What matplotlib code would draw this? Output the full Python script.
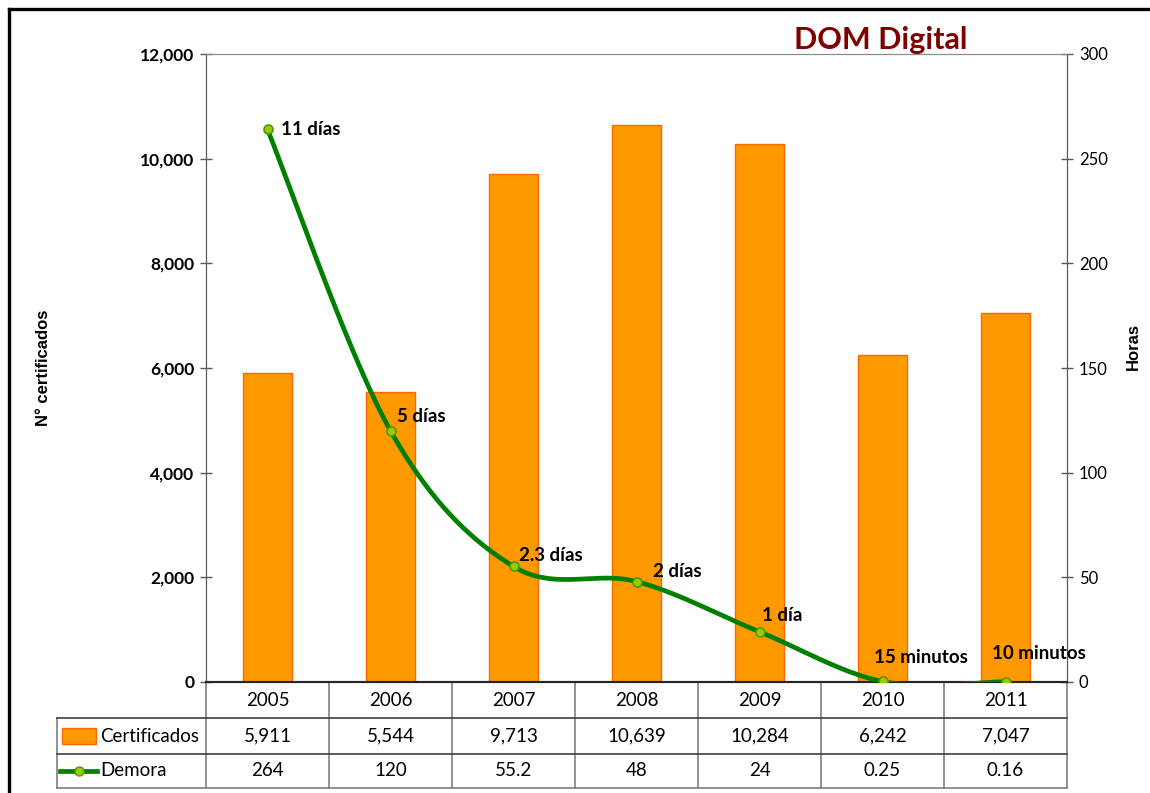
import numpy as np
import matplotlib.pyplot as plt
from matplotlib.lines import Line2D
from matplotlib.patches import Rectangle

# data
years = ["2005", "2006", "2007", "2008", "2009", "2010", "2011"]
certificados = [5911, 5544, 9713, 10639, 10284, 6242, 7047]
demora = [264, 120, 55.2, 48, 24, 0.25, 0.16]
etiquetas = ["11 días", "5 días", "2.3 días", "2 días", "1 día", "15 minutos", "10 minutos"]

orange = "#FF9900"
orange_edge = "#FF6600"
green = "#008000"
marker_fc = "#99CC00"
font = ["Lato", "DejaVu Sans"]

plt.rcParams["font.family"] = font


def smooth(xs, ys, n=40):
    # Catmull-Rom style curve like Excel's smoothed line
    p = np.column_stack([xs, ys]).astype(float)
    p = np.vstack([p[0], p, p[-1]])
    out = []
    for i in range(1, len(p) - 2):
        p0, p1, p2, p3 = p[i - 1], p[i], p[i + 1], p[i + 2]
        c1 = p1 + (p2 - p0) / 6
        c2 = p2 - (p3 - p1) / 6
        t = np.linspace(0, 1, n)[:, None]
        seg = ((1 - t) ** 3) * p1 + 3 * ((1 - t) ** 2) * t * c1 + 3 * (1 - t) * t ** 2 * c2 + t ** 3 * p2
        out.append(seg)
    out = np.vstack(out)
    return out[:, 0], out[:, 1]


fig = plt.figure(figsize=(11.5, 7.93), dpi=100)
ax = fig.add_axes([206 / 1150, 1 - 682 / 793, 861 / 1150, 628 / 793])
ax2 = ax.twinx()

x = np.arange(len(years))
ax.bar(x, certificados, width=0.4, color=orange, edgecolor=orange_edge, linewidth=1, zorder=2)
ax.set_xlim(-0.5, len(years) - 0.5)
ax.set_ylim(0, 12000)
ax.set_yticks(np.arange(0, 12001, 2000))
ax.set_yticklabels([f"{v:,}" for v in range(0, 12001, 2000)], fontsize=12.5, fontweight="bold")
ax.set_xticks([])
ax.tick_params(axis="y", direction="inout", length=9, width=1, color="#595959", pad=4)

sx, sy = smooth(x, demora)
ax2.plot(sx, sy, color=green, linewidth=3.4, zorder=3, solid_capstyle="round")
ax2.plot(x, demora, linestyle="none", marker="o", markersize=6.5, markerfacecolor=marker_fc,
         markeredgecolor="#4E9A06", markeredgewidth=1.2, zorder=4)
ax2.set_ylim(0, 300)
ax2.set_yticks(np.arange(0, 301, 50))
ax2.tick_params(axis="y", direction="inout", length=9, width=1, color="#595959", labelsize=12, pad=4)
ax2.set_xlim(-0.5, len(years) - 0.5)
ax.set_zorder(ax2.get_zorder() - 1)
ax2.patch.set_visible(False)

offsets = [(10, 0), (5, 10), (4, 8), (12, 7), (2, 12), (-6, 17), (-10, 20)]
for xi, yi, lab, off in zip(x, demora, etiquetas, offsets):
    ax2.annotate(lab, (xi, yi), xytext=off, textcoords="offset points", ha="left", va="center",
                 fontsize=13.5, fontweight="bold", color="black", zorder=5)

for a in (ax, ax2):
    a.spines["top"].set_color("#8C8C8C")
    a.spines["left"].set_color("#595959")
    a.spines["right"].set_color("#595959")
    a.spines["bottom"].set_color("#262626")
    a.spines["bottom"].set_linewidth(1.5)

ax.set_ylabel("N° certificados", family=["Liberation Sans"], fontweight="bold", fontsize=12)
ax.yaxis.set_label_coords((51 - 206) / 861, (682 - 368) / 628)
ax2.set_ylabel("Horas", family=["Liberation Sans"], fontweight="bold", fontsize=12)
ax2.yaxis.set_label_coords((1126 - 206) / 861, (682 - 347) / 628)

# data table under the plot
rows = [-36 / 628, -72 / 628, -106 / 628]
tr = ax.get_xaxis_transform()
vline = "#7F7F7F"
hline = "#404040"
lab_left = (57 - 206) / 861 * 7 - 0.5
for b in np.arange(-0.5, len(years), 1):
    ax.add_line(Line2D([b, b], [0, rows[2]], transform=tr, color=vline, lw=1.2, clip_on=False))
ax.add_line(Line2D([lab_left, lab_left], [rows[0], rows[2]], transform=tr, color=vline, lw=1.2, clip_on=False))
ax.add_line(Line2D([lab_left, len(years) - 0.5], [rows[0], rows[0]], transform=tr, color=hline, lw=1.2, clip_on=False))
ax.add_line(Line2D([lab_left, len(years) - 0.5], [rows[1], rows[1]], transform=tr, color=hline, lw=1.2, clip_on=False))
ax.add_line(Line2D([lab_left, len(years) - 0.5], [rows[2], rows[2]], transform=tr, color=vline, lw=1.2, clip_on=False))

ymid = [rows[0] / 2, (rows[0] + rows[1]) / 2, (rows[1] + rows[2]) / 2]
for xi, yr, c, d in zip(x, years, certificados, demora):
    ax.text(xi, ymid[0], yr, transform=tr, ha="center", va="center", fontsize=13.5)
    ax.text(xi, ymid[1], f"{c:,}", transform=tr, ha="center", va="center", fontsize=13.5)
    ax.text(xi, ymid[2], f"{d:g}", transform=tr, ha="center", va="center", fontsize=13.5)

# legend keys inside the table
px = 7 / 861
ax.add_patch(Rectangle((lab_left + 5 * px, ymid[1] - 8 / 628), 34 * px, 16 / 628, transform=tr,
                       facecolor=orange, edgecolor=orange_edge, lw=1, clip_on=False))
ax.add_line(Line2D([lab_left + 3 * px, lab_left + 40 * px], [ymid[2], ymid[2]], transform=tr,
                   color=green, lw=3.4, clip_on=False))
ax.add_line(Line2D([lab_left + 21.5 * px], [ymid[2]], transform=tr, marker="o", markersize=6.5,
                   markerfacecolor=marker_fc, markeredgecolor="#4E9A06", clip_on=False))
ax.text(lab_left + 43 * px, ymid[1], "Certificados", transform=tr, ha="left", va="center", fontsize=13.5)
ax.text(lab_left + 43 * px, ymid[2], "Demora", transform=tr, ha="left", va="center", fontsize=13.5)

fig.text(881 / 1150, 1 - 40 / 793, "DOM Digital", ha="center", va="center", fontsize=22,
         fontweight="bold", color="#800000")

# outer frame (top and left only visible)
fig.add_artist(Line2D([9 / 1150, 1], [1 - 9 / 793, 1 - 9 / 793], color="black", lw=2.4))
fig.add_artist(Line2D([9 / 1150, 9 / 1150], [0, 1 - 9 / 793], color="black", lw=2.4))

fig.savefig("out.png", dpi=100)
